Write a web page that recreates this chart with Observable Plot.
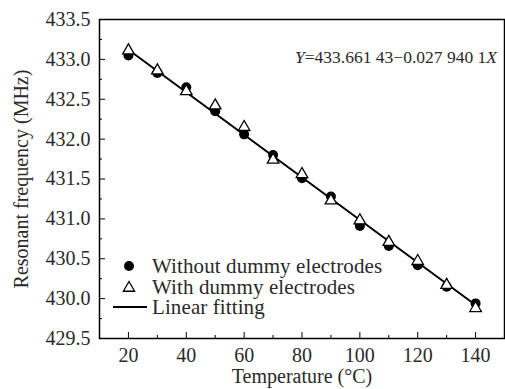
<!DOCTYPE html>
<html>
<head>
<meta charset="utf-8">
<script src="https://cdn.jsdelivr.net/npm/d3@7"></script>
<script src="https://cdn.jsdelivr.net/npm/@observablehq/plot@0.6"></script>
<style>
  html, body { margin: 0; padding: 0; background: #fff; }
  svg { display: block; }
</style>
</head>
<body>
<div id="chart"></div>
<script>
const temperature = [20, 30, 40, 50, 60, 70, 80, 90, 100, 110, 120, 130, 140];
const withoutDummy = [433.05, 432.83, 432.65, 432.35, 432.06, 431.80, 431.51, 431.28, 430.91, 430.66, 430.42, 430.15, 429.94];
const withDummy    = [433.11, 432.86, 432.60, 432.42, 432.15, 431.74, 431.56, 431.23, 430.98, 430.71, 430.47, 430.17, 429.88];
const fitX = [20, 140];
const fitY = [433.12, 429.92];
const xTicks = [20, 40, 60, 80, 100, 120, 140];
const xMinor = [10, 30, 50, 70, 90, 110, 130, 150];
const yTicks = [429.5, 430.0, 430.5, 431.0, 431.5, 432.0, 432.5, 433.0, 433.5];
const yMinor = [429.75, 430.25, 430.75, 431.25, 431.75, 432.25, 432.75, 433.25];
const legendLabels = ["Without dummy electrodes", "With dummy electrodes", "Linear fitting"];
const equation = [{t: "Y", i: true}, {t: "=433.661 43\u22120.027 940 1", i: false}, {t: "X", i: true}];

const pts1 = temperature.map((t, i) => ({t, v: withoutDummy[i]}));
const pts2 = temperature.map((t, i) => ({t, v: withDummy[i]}));
const fit = fitX.map((t, i) => ({t, v: fitY[i]}));

const FONT = "'Liberation Serif', 'Times New Roman', serif";
const TXT = "#2a2a2a";
const FS = 20;

function legendMark(index, scales, values, dim) {
  const g = d3.create("svg:g").attr("font-family", FONT).attr("font-size", 21).attr("fill", TXT)
    .attr("text-anchor", "start").attr("letter-spacing", "0.1px");
  const x0 = dim.marginLeft, yb = dim.height - dim.marginBottom;
  const rows = [yb - 72, yb - 51, yb - 31];
  g.append("circle").attr("cx", x0 + 30).attr("cy", rows[0]).attr("r", 5).attr("fill", "#000");
  g.append("path").attr("d", d3.symbol(d3.symbolTriangle, 55)()).attr("transform", `translate(${x0 + 30},${rows[1] + 1})`)
    .attr("fill", "#fff").attr("stroke", "#000").attr("stroke-width", 1.3);
  g.append("line").attr("x1", x0 + 14).attr("x2", x0 + 48).attr("y1", rows[2]).attr("y2", rows[2])
    .attr("stroke", "#000").attr("stroke-width", 2);
  legendLabels.forEach((s, i) => {
    g.append("text").attr("x", x0 + 53).attr("y", rows[i]).attr("dy", "0.35em").text(s);
  });
  return g.node();
}

function equationMark(index, scales, values, dim) {
  const g = d3.create("svg:g");
  const t = g.append("text").attr("font-family", FONT).attr("font-size", 17.5).attr("fill", TXT)
    .attr("x", dim.width - dim.marginRight - 7).attr("y", dim.marginTop + 38).attr("dy", "0.35em")
    .attr("text-anchor", "end");
  equation.forEach(p => t.append("tspan").attr("font-style", p.i ? "italic" : "normal").text(p.t));
  return g.node();
}

const chart = Plot.plot({
  width: 505,
  height: 389,
  marginLeft: 99,
  marginRight: 1,
  marginTop: 19,
  marginBottom: 51,
  style: {fontFamily: FONT, fontSize: FS + "px", color: TXT, background: "#fff"},
  x: {domain: [10, 150]},
  y: {domain: [429.5, 433.5]},
  marks: [
    Plot.frame({stroke: "#000", strokeWidth: 1.5}),
    Plot.axisX({ticks: xTicks, tickSize: -6, tickPadding: 15, tickFormat: d => d, fontSize: FS, label: "Temperature (\u00B0C)", labelAnchor: "center", labelArrow: "none", labelOffset: 44, stroke: "#000"}),
    Plot.axisX({ticks: xMinor, tickSize: -3, tickFormat: () => "", label: null, stroke: "#000"}),
    Plot.axisY({ticks: yTicks, tickSize: -6, tickPadding: 15, tickFormat: d3.format(".1f"), fontSize: FS, label: "Resonant frequency (MHz)", labelAnchor: "center", labelArrow: "none", labelOffset: 86, stroke: "#000"}),
    Plot.axisY({ticks: yMinor, tickSize: -3, tickFormat: () => "", label: null, stroke: "#000"}),
    Plot.line(fit, {x: "t", y: "v", stroke: "#000", strokeWidth: 2}),
    Plot.dot(pts1, {x: "t", y: "v", r: 5, fill: "#000", stroke: "none"}),
    Plot.dot(pts2, {x: "t", y: "v", symbol: "triangle", r: 4.3, fill: "#fff", stroke: "#000", strokeWidth: 1.3}),
    legendMark,
    equationMark
  ]
});
document.getElementById("chart").append(chart);
</script>
</body>
</html>
